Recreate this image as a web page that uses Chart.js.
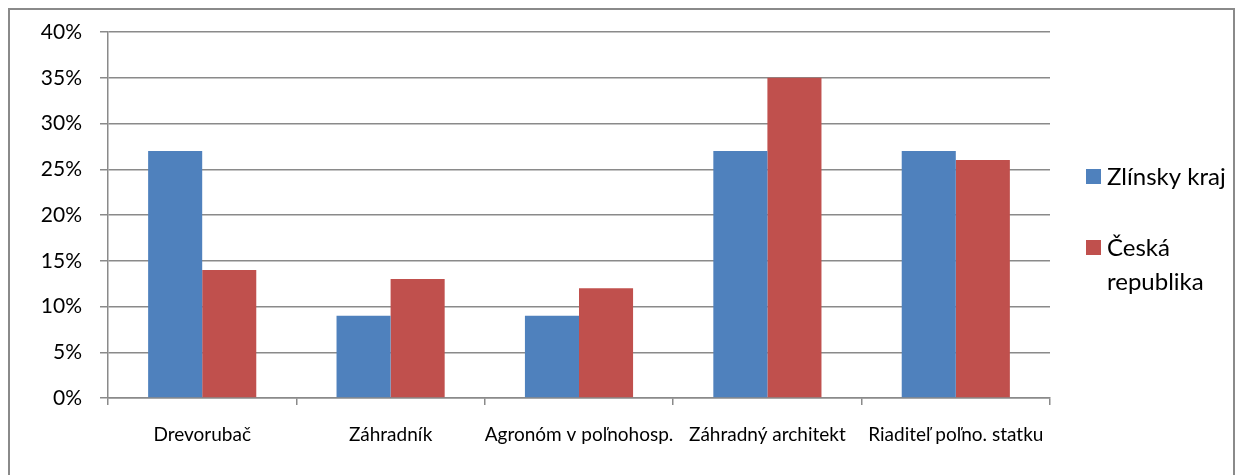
<!DOCTYPE html>
<html>
<head>
<meta charset="utf-8">
<script src="https://cdn.jsdelivr.net/npm/chart.js@4"></script>
<style>
  html, body { margin: 0; padding: 0; background: #fff; }
  #wrap { position: relative; width: 1239px; height: 475px; overflow: hidden; }
  #frame { position: absolute; left: 8px; top: 8px; width: 1227px; height: 520px;
           border: 2px solid #8a8a8a; box-sizing: border-box; pointer-events: none; }
  canvas { position: absolute; left: 0; top: 0; }
</style>
</head>
<body>
<div id="wrap">
  <canvas id="chart" width="1239" height="475"></canvas>
  <div id="frame"></div>
</div>
<script>
// data
var categories = ['Drevorubač', 'Záhradník', 'Agronóm v poľnohosp.', 'Záhradný architekt', 'Riaditeľ poľno. statku'];
var seriesNames = ['Zlínsky kraj', 'Česká republika'];
var zlinskyKraj = [27, 9, 9, 27, 27];
var ceskaRepublika = [14, 13, 12, 35, 26];

var gridColor = '#8a8a8a';
var fontFam = 'Lato, "Open Sans", sans-serif';

// legend drawn on the right, with word wrap like the original
const sideLegend = {
    id: 'sideLegend',
    afterDraw(chart) {
        const ctx = chart.ctx;
        ctx.save();
        ctx.font = '24px ' + fontFam;
        ctx.textBaseline = 'middle';
        var x = 1086, y = 176, lh = 34, maxW = 128;
        chart.data.datasets.forEach(function (ds) {
            var words = ds.label.split(' ');
            var lines = [], cur = '';
            words.forEach(function (w) {
                var t = cur ? cur + ' ' + w : w;
                if (cur && ctx.measureText(t).width > maxW) { lines.push(cur); cur = w; }
                else cur = t;
            });
            lines.push(cur);
            ctx.fillStyle = ds.backgroundColor;
            ctx.fillRect(x, y - 7, 15, 15);
            ctx.fillStyle = '#000';
            lines.forEach(function (l, i) {
                ctx.fillText(l, x + 21, y + 1 + i * lh);
            });
            y += lines.length * lh + 37;
        });
        ctx.restore();
    }
};

const ctx = document.getElementById('chart').getContext('2d');
const chart = new Chart(ctx, {
    type: 'bar',
    data: {
        labels: categories,
        datasets: [
            {
                label: seriesNames[0],
                data: zlinskyKraj,
                backgroundColor: '#4F81BD',
                borderWidth: 0,
            },
            {
                label: seriesNames[1],
                data: ceskaRepublika,
                backgroundColor: '#C0504D',
                borderWidth: 0,
            },
        ],
    },
    options: {
        responsive: false,
        animation: false,
        layout: {
            padding: { left: 8, right: 189, top: 32, bottom: 0 }
        },
        datasets: {
            bar: { barPercentage: 1.0, categoryPercentage: 0.574 }
        },
        plugins: {
            legend: { display: false },
            tooltip: { enabled: false }
        },
        scales: {
            x: {
                afterFit: function (s) { s.height = 77; },
                grid: {
                    offset: true,
                    drawOnChartArea: false,
                    drawTicks: true,
                    tickLength: 7,
                    color: gridColor,
                    lineWidth: 1.5
                },
                border: { color: gridColor, width: 1.5 },
                ticks: {
                    color: '#000',
                    font: { family: fontFam, size: 19 },
                    padding: 18,
                    maxRotation: 0,
                    autoSkip: false
                }
            },
            y: {
                min: 0,
                max: 40,
                afterFit: function (s) { s.width = 100; },
                grid: {
                    color: gridColor,
                    lineWidth: 1.5,
                    tickLength: 8
                },
                border: { color: gridColor, width: 1.5 },
                ticks: {
                    stepSize: 5,
                    color: '#000',
                    font: { family: fontFam, size: 21 },
                    padding: 18,
                    callback: function (v) { return v + '%'; }
                }
            }
        }
    },
    plugins: [sideLegend]
});
</script>
</body>
</html>
